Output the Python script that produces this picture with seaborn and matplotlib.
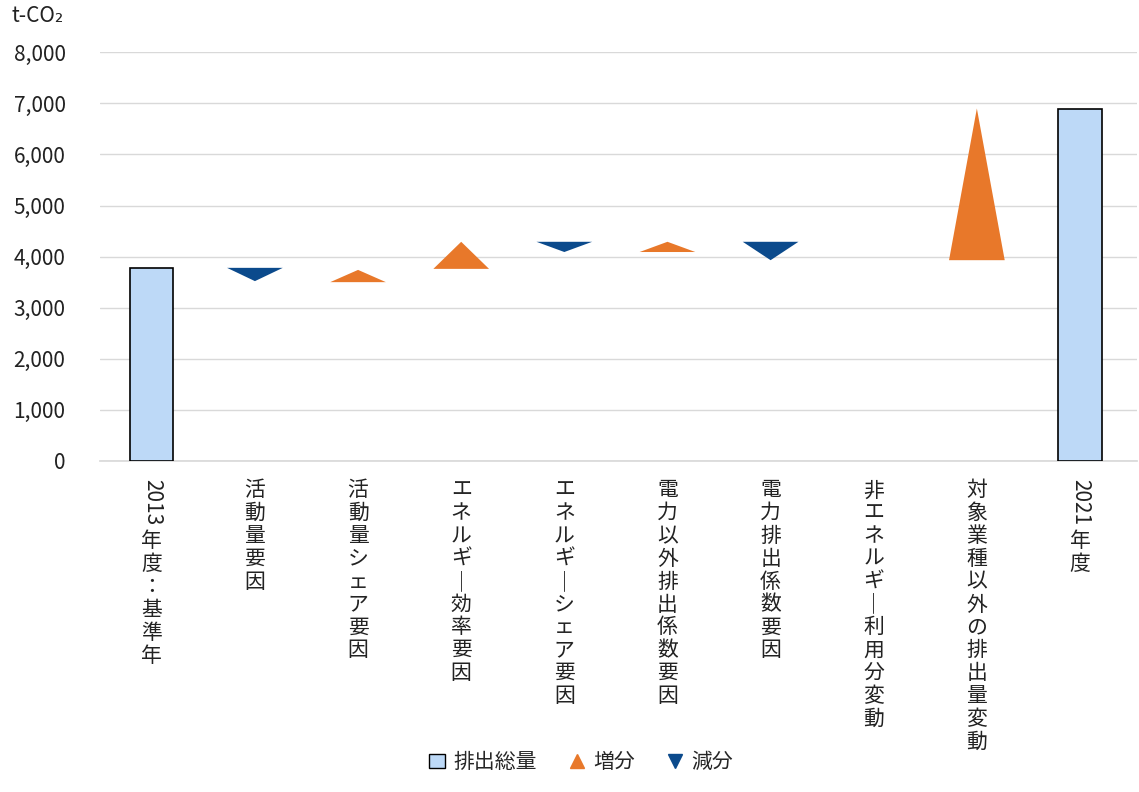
import matplotlib
matplotlib.use('Agg')
import matplotlib.pyplot as plt
import seaborn as sns
from matplotlib.lines import Line2D
from matplotlib.patches import Patch

sns.set_theme(style='whitegrid')
plt.rcParams['font.family'] = ['Noto Sans CJK JP', 'DejaVu Sans']

categories = ['2013年度：基準年', '活動量要因', '活動量シェア要因', 'エネルギー効率要因',
              'エネルギーシェア要因', '電力以外排出係数要因', '電力排出係数要因',
              '非エネルギー利用分変動', '対象業種以外の排出量変動', '2021年度']
kinds = ['total', 'dec', 'inc', 'inc', 'dec', 'inc', 'dec', 'none', 'inc', 'total']
starts = [0, 3780, 3500, 3760, 4290, 4090, 4290, 0, 3930, 0]
ends = [3780, 3520, 3740, 4290, 4090, 4290, 3930, 0, 6900, 6890]

c_total = '#BDD9F7'
c_inc = '#E8782A'
c_dec = '#0B4A8C'

fig, ax = plt.subplots(figsize=(11.39, 7.92), dpi=100)
fig.subplots_adjust(left=0.088, right=0.998, top=0.934, bottom=0.418)

x = list(range(len(categories)))
tot_x = [i for i in x if kinds[i] == 'total']
ax.bar(tot_x, [ends[i] for i in tot_x], width=0.42, color=c_total,
       edgecolor='black', linewidth=1.2, zorder=3)

half = 0.27
for i in x:
    if kinds[i] in ('inc', 'dec'):
        col = c_inc if kinds[i] == 'inc' else c_dec
        ax.fill([i - half, i + half, i], [starts[i], starts[i], ends[i]], color=col, lw=0, zorder=3)

ax.set_xlim(-0.5, 9.55)
ax.set_ylim(0, 8000)
ax.set_yticks(range(0, 8001, 1000))
ax.set_yticklabels([f'{v:,}' for v in range(0, 8001, 1000)], fontsize=15, color='#222222')
ax.set_xticks(x)
ax.set_xticklabels([])
ax.grid(axis='x', visible=False)
ax.grid(axis='y', color='#d9d9d9', lw=1)
for s in ['top', 'right', 'left']:
    ax.spines[s].set_visible(False)
ax.spines['bottom'].set_color('#d9d9d9')
ax.tick_params(axis='y', length=0, pad=25)

tr = ax.get_xaxis_transform()
for i, lab in enumerate(categories):
    lab = lab.replace('ー', '｜')
    if lab.startswith('20'):
        ax.text(i, -0.045, lab[:4], transform=tr, rotation=-90,
                ha='center', va='top', fontsize=15, color='#222222')
        ax.text(i, -0.17, '\n'.join(lab[4:]), transform=tr,
                ha='center', va='top', fontsize=15, linespacing=1.05, color='#222222')
    else:
        ax.text(i, -0.045, '\n'.join(lab), transform=tr,
                ha='center', va='top', fontsize=15, linespacing=1.05, color='#222222')

fig.text(0.01, 0.972, 't-CO₂', fontsize=15, color='#222222')

handles = [Patch(facecolor=c_total, edgecolor='black', label='排出総量'),
           Line2D([], [], marker='^', ls='', color=c_inc, markersize=10, label='増分'),
           Line2D([], [], marker='v', ls='', color=c_dec, markersize=10, label='減分')]
fig.legend(handles=handles, loc='lower center', bbox_to_anchor=(0.51, 0.0), ncol=3,
           frameon=False, fontsize=15, handlelength=0.8, handletextpad=0.4, columnspacing=1.5)

fig.savefig('out.png', dpi=100)
